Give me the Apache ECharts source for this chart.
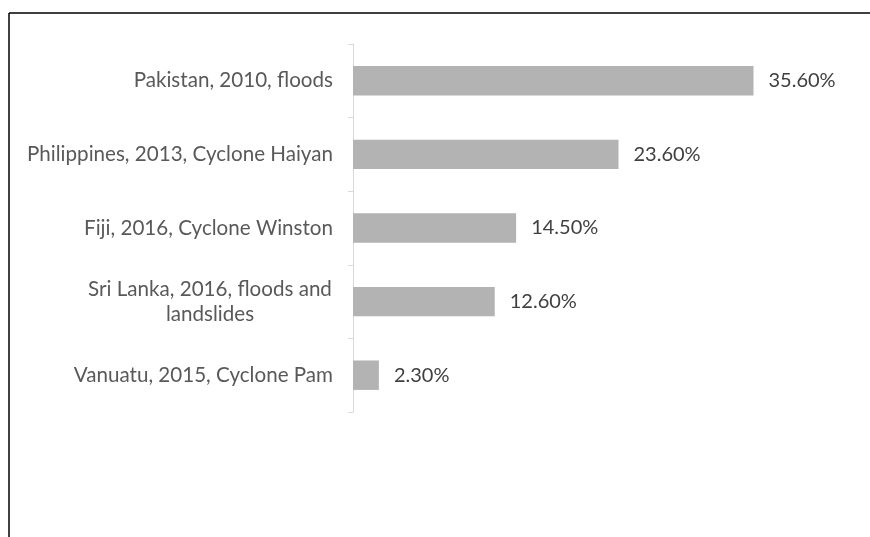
<!DOCTYPE html>
<html>
<head>
<meta charset="utf-8">
<script src="https://cdn.jsdelivr.net/npm/echarts@6/dist/echarts.min.js"></script>
<style>
html,body{margin:0;padding:0;background:#fff;}
#main{width:870px;height:537px;}
</style>
</head>
<body>
<div id="main"></div>
<script>
const categories = [
  'Pakistan, 2010, floods',
  'Philippines, 2013, Cyclone Haiyan',
  'Fiji, 2016, Cyclone Winston',
  'Sri Lanka, 2016, floods and\nlandslides',
  'Vanuatu, 2015, Cyclone Pam'
];
const values = [35.6, 23.6, 14.5, 12.6, 2.3];

const FONT = 'Lato';
const FS = 20.6;
const chart = echarts.init(document.getElementById('main'), null, {renderer: 'canvas'});
chart.setOption({
  animation: false,
  backgroundColor: '#ffffff',
  graphic: [
    {type: 'line', shape: {x1: 9, y1: 13, x2: 870, y2: 13}, style: {stroke: '#000', lineWidth: 1.5}},
    {type: 'line', shape: {x1: 9, y1: 13, x2: 9, y2: 537}, style: {stroke: '#000', lineWidth: 1.5}}
  ],
  grid: {left: 353, top: 44, width: 450, height: 368, containLabel: false},
  xAxis: {
    type: 'value', min: 0, max: 40, show: false
  },
  yAxis: {
    type: 'category',
    inverse: true,
    data: categories,
    axisLine: {show: true, lineStyle: {color: '#d9d9d9', width: 1}},
    axisTick: {show: true, length: 5, lineStyle: {color: '#d9d9d9'}},
    axisLabel: {
      margin: 20,
      fontFamily: FONT,
      fontSize: FS,
      color: '#595959',
      lineHeight: 25,
      formatter: function (v) {
        const parts = v.split('\n');
        if (parts.length === 1) return v;
        return parts.map(p => '{c|' + p + '}').join('\n');
      },
      rich: {
        c: {width: 246, align: 'center', fontFamily: FONT, fontSize: FS, color: '#595959', lineHeight: 25}
      }
    },
    splitLine: {show: false}
  },
  series: [{
    type: 'bar',
    data: values,
    barCategoryGap: '60%',
    itemStyle: {color: '#b3b3b3'},
    label: {
      show: true,
      position: 'right',
      distance: 15,
      fontFamily: FONT,
      fontSize: 20,
      color: '#404040',
      formatter: p => p.value.toFixed(2) + '%'
    }
  }]
});
</script>
</body>
</html>
